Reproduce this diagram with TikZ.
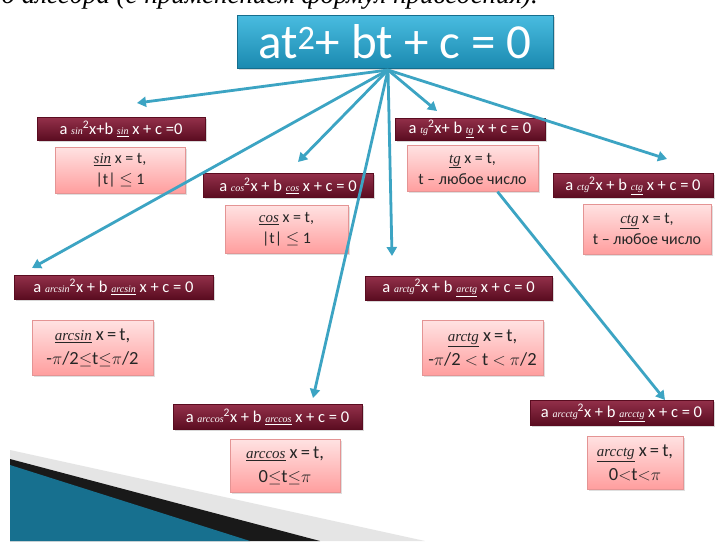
\documentclass[tikz,border=0pt]{standalone}
\usepackage{fontspec}
\setmainfont{Carlito}
\newfontfamily\serifit{Liberation Serif}
\usetikzlibrary{arrows.meta,shadows}
\definecolor{tealA}{HTML}{1B8AB0}
\definecolor{tealB}{HTML}{49BCE0}
\definecolor{arrowc}{HTML}{3CA4C3}
\definecolor{maroonA}{HTML}{5A0C20}
\definecolor{maroonB}{HTML}{93304A}
\definecolor{pinkA}{HTML}{FFE2E2}
\definecolor{pinkB}{HTML}{FF9E9E}
\definecolor{pinkE}{HTML}{E49494}
\definecolor{decoA}{HTML}{17708F}
\definecolor{decoB}{HTML}{58BBDC}
\newcommand{\sfn}[1]{{\fontsize{10}{10}\selectfont\serifit\itshape #1}}
\newcommand{\usfn}[1]{\underline{\sfn{#1}}}
\newcommand{\pfn}[1]{\underline{{\fontsize{15}{15}\selectfont\serifit\itshape #1}}}
\tikzset{
  hdr/.style={draw=maroonA, top color=maroonB, bottom color=maroonA, text=white,
    font=\fontsize{16.5}{17}\selectfont, inner sep=0pt,
    drop shadow={opacity=0.3, shadow xshift=1.5pt, shadow yshift=-1.5pt}},
  pinkbox/.style={draw=pinkE, top color=pinkA, bottom color=pinkB, align=center,
    font=\fontsize{16}{21}\selectfont, text=black!85, inner sep=0pt,
    drop shadow={opacity=0.25, shadow xshift=1.5pt, shadow yshift=-1.5pt}},
  arcbox/.style={pinkbox, font=\fontsize{18.5}{24}\selectfont},
  arr/.style={draw=arrowc, line width=2.8pt, -{Triangle[width=10pt,length=9pt]}}
}
\begin{document}
\begin{tikzpicture}[x=1pt,y=-1pt]
\useasboundingbox (0,0) rectangle (715,541);
\fill[white] (0,0) rectangle (715,541);
\begin{scope}
\clip (0,0) rectangle (715,541);
\node[anchor=base west, inner sep=0pt, font=\serifit\itshape\fontsize{27}{27}\selectfont] (cap) at (-4,3) {ю алгебра (с применением формул приведения).};
% bottom-left decoration
\fill[black!10] (10,450) -- (425,541) -- (10,541) -- cycle;
\fill[black!90] (10,459) -- (320,541) -- (10,541) -- cycle;
\shade[left color=decoA, middle color=decoB, right color=decoA] (10,465) -- (250,541) -- (10,541) -- cycle;
\end{scope}
% top box
\node[draw=tealA!80!black, top color=tealB, bottom color=tealA, text=white, inner sep=0pt,
  minimum width=316pt, minimum height=53pt, font=\fontsize{49}{50}\selectfont,
  drop shadow={opacity=0.3, shadow xshift=1.5pt, shadow yshift=-2pt}]
  (top) at (395,41.5) {at\textsuperscript{2}+ bt + c = 0};
\coordinate (hub) at (388,70);
% header boxes
\node[hdr, minimum width=168pt, minimum height=23pt] (b1) at (121,129) {a \sfn{sin}\textsuperscript{2}x+b \usfn{sin} x + c =0};
\node[hdr, minimum width=170pt, minimum height=24pt] (b2) at (288,185.5) {a \sfn{cos}\textsuperscript{2}x + b \usfn{cos} x + c = 0};
\node[hdr, minimum width=150pt, minimum height=22pt] (b3) at (470,129) {a \sfn{tg}\textsuperscript{2}x+ b \usfn{tg} x + c = 0};
\node[hdr, minimum width=160pt, minimum height=24pt] (b4) at (633,185.5) {a \sfn{ctg}\textsuperscript{2}x + b \usfn{ctg} x + c = 0};
\node[hdr, minimum width=199pt, minimum height=24pt] (b5) at (113.5,287) {a \sfn{arcsin}\textsuperscript{2}x + b \usfn{arcsin} x + c = 0};
\node[hdr, minimum width=187pt, minimum height=24pt] (b6) at (458.5,288) {a \sfn{arctg}\textsuperscript{2}x + b \usfn{arctg} x + c = 0};
\node[hdr, minimum width=189pt, minimum height=25pt] (b7) at (267.5,417) {a \sfn{arccos}\textsuperscript{2}x + b \usfn{arccos} x + c = 0};
\node[hdr, minimum width=183pt, minimum height=25pt] (b8) at (621.5,412.5) {a \sfn{arcctg}\textsuperscript{2}x + b \usfn{arcctg} x + c = 0};
% pink boxes
\node[pinkbox, minimum width=130pt, minimum height=46pt] (p1) at (120,170) {\pfn{sin} x = t,\\ |t| $\leq$ 1};
\node[pinkbox, minimum width=123pt, minimum height=48pt] (p2) at (286.5,229) {\pfn{cos} x = t,\\ |t| $\leq$ 1};
\node[pinkbox, minimum width=131pt, minimum height=46pt] (p3) at (472.5,168.5) {\pfn{tg} x = t,\\ t -- любое число};
\node[pinkbox, minimum width=128pt, minimum height=50pt] (p4) at (647,229) {\pfn{ctg} x = t,\\ t -- любое число};
\node[arcbox, minimum width=121pt, minimum height=55pt] (p5) at (92.5,348) {\pfn{arcsin} x\,=\,t,\\ -$\pi$/2$\leq$t$\leq$$\pi$/2};
\node[arcbox, minimum width=121pt, minimum height=55pt] (p6) at (482.5,348) {\pfn{arctg} x\,=\,t,\\ -$\pi$/2 $<$ t $<$ $\pi$/2};
\node[arcbox, minimum width=110pt, minimum height=53pt] (p7) at (285,466) {\pfn{arccos} x\,=\,t,\\ 0$\leq$t$\leq$$\pi$};
\node[arcbox, minimum width=96pt, minimum height=53pt] (p8) at (635,462.5) {\pfn{arcctg} x\,=\,t,\\ 0$<$t$<$$\pi$};
% arrow tips
\coordinate (t1) at (137,103);
\coordinate (t2) at (298,162);
\coordinate (t3) at (32,268);
\coordinate (t4) at (313,398);
\coordinate (t5) at (392,256);
\coordinate (t6) at (437,111);
\coordinate (t7) at (667,159);
\coordinate (t8) at (665,400);
\draw[arr] (hub) -- (t1);
\draw[arr] (hub) -- (t2);
\draw[arr] (hub) -- (t3);
\draw[arr] (hub) -- (t4);
\draw[arr] (hub) -- (t5);
\draw[arr] (hub) -- (t6);
\draw[arr] (hub) -- (t7);
\draw[arr] ([xshift=25pt]p3.south) -- (t8);
\end{tikzpicture}
\end{document}
